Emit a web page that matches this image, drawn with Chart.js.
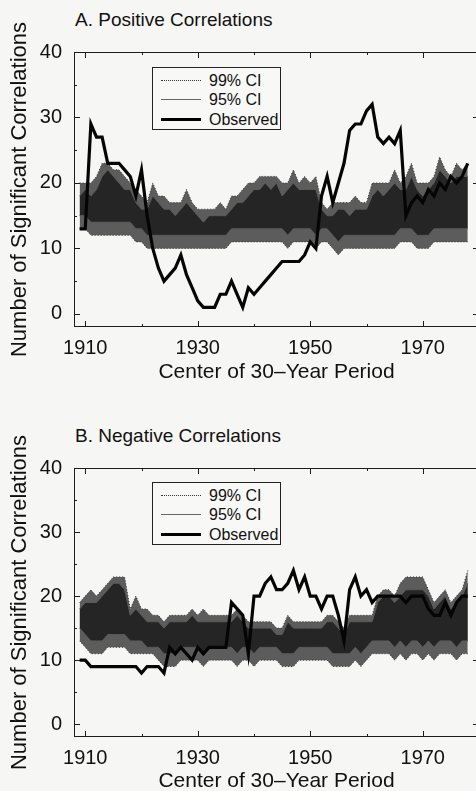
<!DOCTYPE html>
<html>
<head>
<meta charset="utf-8">
<title>Significant Correlations</title>
<script src="https://cdn.jsdelivr.net/npm/chart.js@4.4.1/dist/chart.umd.min.js"></script>
<style>
  html, body { margin: 0; padding: 0; width: 476px; height: 791px; overflow: hidden; background: #f6f6f4; }
  body { position: relative; font-family: "Liberation Sans", Arial, sans-serif; color: #111; }
  .panel { position: absolute; left: 0; }
  .panel canvas { display: block; }
  .title { position: absolute; left: 75px; font-size: 19px; line-height: 22px; white-space: nowrap; }
  .legend { position: absolute; left: 152px; width: 127px; height: 61px; border: 1px solid #222; background: #f8f8f6; font-size: 16px; }
  .legend .row { position: absolute; left: 0; width: 127px; height: 20px; }
  .legend .sample { position: absolute; left: 8px; width: 40px; top: 9px; }
  .legend .label { position: absolute; left: 56px; top: 0; line-height: 20px; }
  .s99 { border-top: 1px dotted #333; }
  .s95 { border-top: 1px solid #666; }
  .sobs { border-top: 3px solid #000; top: 8px !important; }
</style>
</head>
<body>

<div class="title" style="top:9px">A. Positive Correlations</div>
<div class="panel" style="top:0"><canvas id="chartA" width="480" height="395"></canvas></div>

<div class="title" style="top:425px">B. Negative Correlations</div>
<div class="panel" style="top:416px"><canvas id="chartB" width="480" height="380"></canvas></div>

<script>
// Center years of the 30-year windows
const years = [
  1909, 1910, 1911, 1912, 1913, 1914, 1915, 1916, 1917, 1918,
  1919, 1920, 1921, 1922, 1923, 1924, 1925, 1926, 1927, 1928,
  1929, 1930, 1931, 1932, 1933, 1934, 1935, 1936, 1937, 1938,
  1939, 1940, 1941, 1942, 1943, 1944, 1945, 1946, 1947, 1948,
  1949, 1950, 1951, 1952, 1953, 1954, 1955, 1956, 1957, 1958,
  1959, 1960, 1961, 1962, 1963, 1964, 1965, 1966, 1967, 1968,
  1969, 1970, 1971, 1972, 1973, 1974, 1975, 1976, 1977, 1978
];

// A. Positive correlations
const posObserved = [
  13, 13, 29, 27, 27, 23, 23, 23, 22, 21,
  18, 22, 15, 10, 7, 5, 6, 7, 9, 6,
  4, 2, 1, 1, 1, 3, 3, 5, 3, 1,
  4, 3, 4, 5, 6, 7, 8, 8, 8, 8,
  9, 11, 10, 18, 21, 17, 20, 23, 28, 29,
  29, 31, 32, 27, 26, 27, 26, 28, 15, 17,
  18, 17, 19, 18, 20, 19, 21, 20, 21, 23
];
const posUpper99 = [
  20, 20, 20, 21, 23, 23, 22, 22, 21, 20,
  19, 18, 17, 20, 18, 18, 17, 17, 17, 19,
  17, 16, 16, 16, 16, 17, 16, 18, 18, 19,
  20, 20, 21, 21, 21, 21, 20, 20, 22, 20,
  21, 20, 21, 17, 16, 17, 17, 17, 17, 18,
  17, 17, 20, 20, 20, 20, 22, 20, 21, 23,
  20, 20, 20, 21, 24, 22, 21, 23, 22, 23
];
const posUpper95 = [
  18, 19, 18, 19, 21, 22, 21, 20, 19, 19,
  17, 16, 16, 18, 17, 16, 16, 15, 16, 17,
  16, 15, 14, 15, 15, 15, 15, 16, 17, 17,
  18, 19, 19, 20, 19, 20, 18, 19, 20, 19,
  19, 19, 19, 16, 15, 15, 16, 16, 15, 16,
  16, 16, 18, 19, 18, 19, 20, 19, 19, 21,
  19, 18, 19, 20, 22, 21, 20, 21, 21, 21
];
const posLower95 = [
  15, 15, 14, 14, 14, 14, 14, 14, 14, 14,
  13, 13, 12, 12, 12, 12, 12, 12, 12, 12,
  12, 12, 12, 12, 12, 12, 12, 13, 13, 13,
  13, 13, 13, 13, 13, 13, 13, 12, 13, 13,
  13, 13, 12, 13, 13, 12, 11, 12, 12, 12,
  12, 12, 12, 12, 12, 12, 12, 13, 13, 13,
  12, 12, 12, 13, 13, 13, 13, 13, 13, 13
];
const posLower99 = [
  13, 13, 12, 12, 12, 12, 12, 12, 12, 12,
  11, 11, 10, 10, 10, 10, 10, 10, 10, 10,
  10, 10, 10, 10, 10, 10, 10, 11, 11, 11,
  11, 11, 11, 11, 11, 11, 11, 10, 11, 11,
  11, 11, 10, 11, 11, 10, 9, 10, 10, 10,
  10, 10, 10, 10, 10, 10, 10, 11, 11, 11,
  10, 10, 10, 11, 11, 11, 11, 11, 11, 11
];

// B. Negative correlations
const negObserved = [
  10, 10, 9, 9, 9, 9, 9, 9, 9, 9,
  9, 8, 9, 9, 9, 8, 12, 11, 12, 11,
  10, 12, 11, 12, 12, 12, 12, 19, 18, 17,
  11, 20, 20, 22, 23, 21, 21, 22, 24, 21,
  23, 20, 20, 18, 20, 20, 17, 13, 21, 23,
  20, 21, 19, 20, 20, 20, 20, 20, 19, 20,
  20, 20, 18, 17, 17, 19, 17, 19, 20, 20
];
const negUpper99 = [
  19, 20, 21, 20, 21, 22, 23, 23, 23, 18,
  20, 18, 18, 17, 17, 16, 17, 17, 17, 17,
  18, 17, 18, 17, 17, 17, 17, 17, 18, 17,
  16, 16, 16, 16, 16, 15, 15, 17, 16, 16,
  16, 16, 16, 16, 17, 17, 16, 15, 17, 17,
  17, 17, 17, 20, 21, 21, 20, 22, 23, 23,
  23, 23, 21, 19, 20, 21, 19, 20, 21, 24
];
const negUpper95 = [
  18, 19, 19, 19, 20, 21, 22, 22, 21, 17,
  18, 17, 16, 16, 16, 15, 16, 16, 16, 16,
  17, 16, 16, 16, 16, 16, 16, 16, 17, 16,
  15, 15, 15, 15, 15, 14, 14, 16, 15, 15,
  15, 15, 15, 15, 16, 16, 15, 14, 16, 16,
  16, 16, 16, 19, 20, 20, 19, 20, 21, 21,
  21, 21, 20, 18, 19, 20, 18, 19, 20, 22
];
const negLower95 = [
  15, 14, 13, 13, 13, 14, 14, 14, 14, 13,
  13, 13, 12, 12, 12, 11, 11, 11, 12, 12,
  12, 12, 11, 12, 12, 12, 12, 12, 11, 12,
  12, 11, 12, 12, 12, 12, 11, 11, 11, 12,
  12, 12, 12, 12, 12, 11, 11, 11, 11, 12,
  11, 12, 13, 13, 13, 13, 12, 13, 12, 13,
  13, 12, 13, 12, 13, 13, 13, 12, 13, 13
];
const negLower99 = [
  13, 12, 11, 11, 11, 12, 12, 12, 12, 11,
  11, 11, 11, 11, 10, 9, 9, 9, 10, 10,
  10, 10, 9, 10, 10, 10, 10, 10, 9, 10,
  10, 9, 10, 10, 10, 10, 9, 9, 9, 10,
  10, 10, 10, 10, 10, 9, 9, 9, 9, 10,
  9, 10, 11, 11, 11, 11, 10, 11, 10, 11,
  11, 10, 11, 10, 11, 11, 11, 10, 11, 11
];

// Axis ticks
const xTickLabels = [1910, 1930, 1950, 1970];
const xMinorTicks = [1920, 1940, 1960];
const yTickLabels = [0, 10, 20, 30, 40];
const yMinorTicks = [5, 15, 25, 35];
const legendLabels = ['99% CI', '95% CI', 'Observed'];

const FONT = '"Liberation Sans", Arial, sans-serif';

/**
 * Frame around the plot with inward tick marks on all four sides
 */
const frameTicks = {
  id: 'frameTicks',
  afterDatasetsDraw(chart) {
    const { ctx, chartArea: a, scales: { x, y } } = chart;
    ctx.save();
    ctx.strokeStyle = '#1c1c1c';
    ctx.lineWidth = 1;
    ctx.strokeRect(a.left + 0.5, a.top + 0.5, a.right - a.left - 1, a.bottom - a.top - 1);
    ctx.beginPath();
    const xTick = (v, len) => {
      const px = Math.round(x.getPixelForValue(v)) + 0.5;
      ctx.moveTo(px, a.bottom); ctx.lineTo(px, a.bottom - len);
      ctx.moveTo(px, a.top); ctx.lineTo(px, a.top + len);
    };
    const yTick = (v, len) => {
      const py = Math.round(y.getPixelForValue(v)) + 0.5;
      ctx.moveTo(a.left, py); ctx.lineTo(a.left + len, py);
      ctx.moveTo(a.right, py); ctx.lineTo(a.right - len, py);
    };
    xTickLabels.forEach(v => xTick(v, 6));
    xMinorTicks.forEach(v => xTick(v, 3));
    yTickLabels.forEach(v => yTick(v, 6));
    yMinorTicks.forEach(v => yTick(v, 3));
    ctx.stroke();
    ctx.restore();
  }
};

/**
 * Turn a value list into {x, y} points on the year axis
 */
function toPoints(values) {
  return years.map((yr, i) => ({ x: yr, y: values[i] }));
}

/**
 * Build one panel
 */
function buildPanel(canvasId, series, geom) {
  const ctx = document.getElementById(canvasId).getContext('2d');
  return new Chart(ctx, {
    type: 'line',
    data: {
      datasets: [
        { label: 'Observed', data: toPoints(series.observed), borderColor: '#050505', borderWidth: 3.2, fill: false },
        { label: '95% CI', data: toPoints(series.upper95), borderColor: '#5a5a5a', borderWidth: 1, fill: '+1', backgroundColor: '#252525' },
        { label: '95% CI lower', data: toPoints(series.lower95), borderColor: '#5a5a5a', borderWidth: 1, fill: false },
        { label: '99% CI', data: toPoints(series.upper99), borderColor: '#333', borderWidth: 1, borderDash: [1, 2], fill: '+1', backgroundColor: '#5c5c5c' },
        { label: '99% CI lower', data: toPoints(series.lower99), borderColor: '#333', borderWidth: 1, borderDash: [1, 2], fill: false }
      ]
    },
    options: {
      responsive: false,
      animation: false,
      layout: { padding: { top: geom.top, right: 1, left: 0, bottom: 0 } },
      elements: { point: { radius: 0 }, line: { tension: 0 } },
      plugins: {
        legend: { display: false },
        tooltip: { enabled: false },
        filler: { drawTime: 'beforeDatasetsDraw' }
      },
      scales: {
        x: {
          type: 'linear',
          min: 1908,
          max: 1980,
          afterBuildTicks: s => { s.ticks = xTickLabels.map(v => ({ value: v })); },
          afterFit: s => { s.height = geom.xHeight; },
          grid: { display: false, drawTicks: false },
          border: { display: false },
          ticks: { padding: 9, color: '#111', font: { family: FONT, size: 20 }, callback: v => String(v) },
          title: { display: true, text: 'Center of 30\u2013Year Period', color: '#111', font: { family: FONT, size: 21 }, padding: { top: 0, bottom: geom.titlePad } }
        },
        y: {
          min: -2,
          max: 40,
          afterBuildTicks: s => { s.ticks = yTickLabels.map(v => ({ value: v })); },
          afterFit: s => { s.width = 74; },
          grid: { display: false, drawTicks: false },
          border: { display: false },
          ticks: { padding: 12, color: '#111', font: { family: FONT, size: 20 } },
          title: { display: true, text: 'Number of Significant Correlations', color: '#111', font: { family: FONT, size: 22 }, padding: { top: 7, bottom: 0 } }
        }
      }
    },
    plugins: [frameTicks]
  });
}

/**
 * HTML legend box inside the plot
 */
function addLegend(top) {
  const box = document.createElement('div');
  box.className = 'legend';
  box.style.top = top + 'px';
  const styles = ['s99', 's95', 'sobs'];
  const rowTops = [3, 22, 42];
  legendLabels.forEach((text, i) => {
    const row = document.createElement('div');
    row.className = 'row';
    row.style.top = rowTops[i] + 'px';
    row.innerHTML = `<div class="sample ${styles[i]}"></div><div class="label">${text}</div>`;
    box.appendChild(row);
  });
  document.body.appendChild(box);
}

buildPanel('chartA', {
  observed: posObserved, upper95: posUpper95, lower95: posLower95, upper99: posUpper99, lower99: posLower99
}, { top: 52, xHeight: 68, titlePad: 10 });

buildPanel('chartB', {
  observed: negObserved, upper95: negUpper95, lower95: negLower95, upper99: negUpper99, lower99: negLower99
}, { top: 52, xHeight: 59, titlePad: 2 });

addLegend(67);
addLegend(482);
</script>
</body>
</html>
